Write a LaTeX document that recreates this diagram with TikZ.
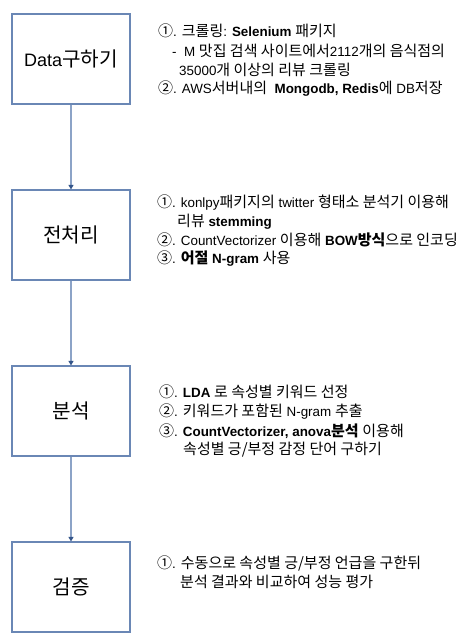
\documentclass[tikz,border=0pt]{standalone}
\usepackage{fontspec}
\setmainfont{Liberation Sans}
\newfontfamily\krf[Scale=1.12]{Noto Sans CJK KR}
\newcommand\KR[1]{{\krf #1}}
\usetikzlibrary{arrows.meta}
\definecolor{boxline}{HTML}{6A87B5}
\definecolor{arrline}{HTML}{8CA3C7}
\definecolor{arrtip}{HTML}{34558A}
\tikzset{
  stage/.style={draw=boxline, line width=1.2pt, fill=white, minimum width=118pt, minimum height=90pt, inner sep=0pt, font=\fontsize{18}{21}\selectfont},
  item/.style={anchor=base west, inner sep=0pt, font=\fontsize{13.4}{16}\selectfont},
  flow/.style={draw=arrline, line width=1.2pt, -{Triangle[length=4.5pt,width=5pt,color=arrtip]}}
}
\begin{document}
\begin{tikzpicture}[x=1pt,y=-1pt]
\useasboundingbox (0,0) rectangle (458,641);
\node[stage] (b1) at (71,59) {Data\KR{구하기}};
\node[stage] (b2) at (71,235) {\KR{전처리}};
\node[stage] (b3) at (71,411) {\KR{분석}};
\node[stage] (b4) at (71,587) {\KR{검증}};
\draw[flow] (b1.south) -- (b2.north);
\draw[flow] (b2.south) -- (b3.north);
\draw[flow] (b3.south) -- (b4.north);
% box 1 text
\node[item] (t11) at (158,36.5) {\KR{①}. \KR{크롤링}: \textbf{Selenium} \KR{패키지}};
\node[item] (t12) at (172,56.5) {-\ \ M \KR{맛집 검색 사이트에서}2112\KR{개의 음식점의}};
\node[item] (t13) at (179,75.5) {35000\KR{개 이상의 리뷰 크롤링}};
\node[item] (t14) at (158,93.5) {\KR{②}. AWS\KR{서버내의}\ \ \textbf{Mongodb, Redis}\KR{에} DB\KR{저장}};
% box 2 text
\node[item] (t21) at (157,207.5) {\KR{①}. konlpy\KR{패키지의} twitter \KR{형태소 분석기 이용해}};
\node[item] (t22) at (177,226.5) {\KR{리뷰} \textbf{stemming}};
\node[item] (t23) at (157,245.5) {\KR{②}. CountVectorizer \KR{이용해} \textbf{BOW\KR{방식}}\KR{으로 인코딩}};
\node[item] (t24) at (157,263.5) {\KR{③}. \textbf{\KR{어절} N-gram} \KR{사용}};
% box 3 text
\node[item] (t31) at (159,397.5) {\KR{①}. \textbf{LDA} \KR{로 속성별 키워드 선정}};
\node[item] (t32) at (159,416.5) {\KR{②}. \KR{키워드가 포함된} N-gram \KR{추출}};
\node[item] (t33) at (159,436.5) {\KR{③}. \textbf{CountVectorizer, anova\KR{분석}} \KR{이용해}};
\node[item] (t34) at (183,454.5) {\KR{속성별 긍/부정 감정 단어 구하기}};
% box 4 text
\node[item] (t41) at (157,568.5) {\KR{①}. \KR{수동으로 속성별 긍/부정 언급을 구한뒤}};
\node[item] (t42) at (180,587.5) {\KR{분석 결과와 비교하여 성능 평가}};
\end{tikzpicture}
\end{document}
